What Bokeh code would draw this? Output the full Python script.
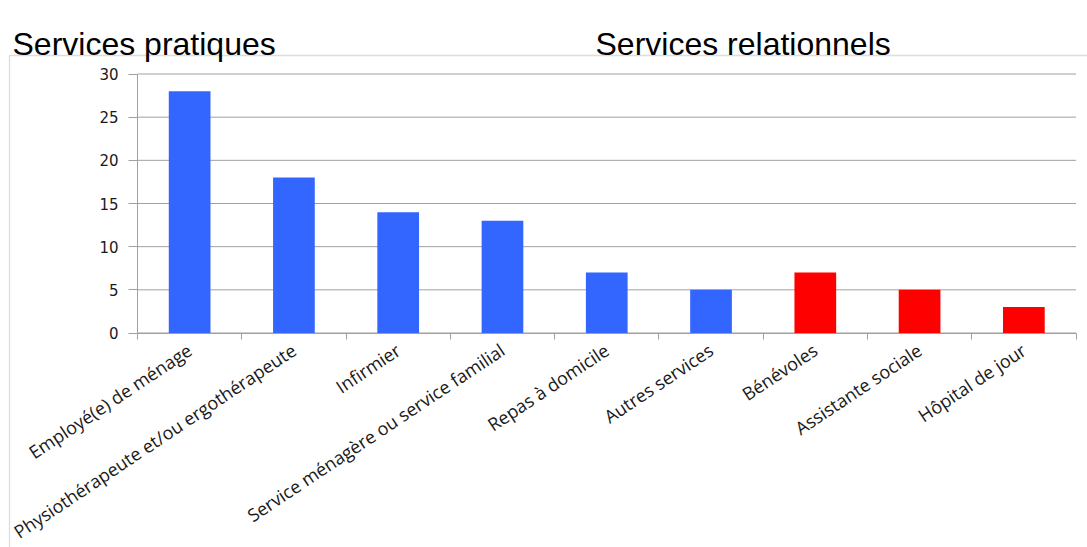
from bokeh.plotting import figure
from bokeh.models import Range1d, FixedTicker, BoxAnnotation, Label, ColumnDataSource
from bokeh.embed import file_html
from bokeh.resources import INLINE

categories = ["Employé(e) de ménage", "Physiothérapeute et/ou ergothérapeute", "Infirmier",
              "Service ménagère ou service familial", "Repas à domicile", "Autres services",
              "Bénévoles", "Assistante sociale", "Hôpital de jour"]
values = [28, 18, 14, 13, 7, 5, 7, 5, 3]
groups = ["pratique"] * 6 + ["relationnel"] * 3
group_colors = {"pratique": "#3366FF", "relationnel": "#FF0000"}
y_ticks = [0, 5, 10, 15, 20, 25, 30]
titles = ["Services pratiques", "Services relationnels"]

W, H = 1087, 547
# pixel layout of the inner plotting area
PX_L, PX_R, PX_T, PX_B = 137.0, 1075.5, 73.5, 332.5
n = len(categories)
YMAX = 30

sx = (PX_R - PX_L) / n
sy = (PX_B - PX_T) / YMAX
def x_at(px):
    return (px - PX_L) / sx
def y_at(py):
    return (PX_B - py) / sy

xs = [i + 0.5 for i in range(n)]
src = ColumnDataSource(dict(x=xs, top=values, color=[group_colors[g] for g in groups], cat=categories))

p = figure(width=W, height=H, output_backend="svg", toolbar_location=None,
           x_range=Range1d(x_at(0), x_at(W)), y_range=Range1d(y_at(H), y_at(0)),
           min_border=0, min_border_left=0, min_border_right=0, min_border_top=0, min_border_bottom=0)
p.outline_line_color = None
p.background_fill_color = "white"
p.border_fill_color = "white"
p.grid.visible = False

border = BoxAnnotation(left=x_at(9), right=x_at(W + 50), top=y_at(55), bottom=y_at(H + 50),
                       fill_color=None, line_color="#8f8f8f", line_width=1.3, level="underlay")
p.add_layout(border)

# horizontal gridlines, limited to the plotting area
p.segment(x0=[0] * len(y_ticks), x1=[n] * len(y_ticks), y0=y_ticks, y1=y_ticks,
          line_color="#a0a0a0", line_width=1)

p.vbar(x="x", top="top", width=0.4, color="color", line_color=None, source=src)

ya = p.yaxis[0]
ya.fixed_location = 0
ya.bounds = (0, YMAX)
ya.ticker = FixedTicker(ticks=y_ticks, minor_ticks=[])
ya.axis_line_color = "#a0a0a0"
ya.major_tick_line_color = "#a0a0a0"
ya.major_tick_out = 9
ya.major_tick_in = 0
ya.minor_tick_line_color = None
ya.major_label_text_font = "DejaVu Sans"
ya.major_label_text_font_size = "15px"
ya.major_label_text_color = "#1a1a1a"
ya.major_label_standoff = 10

xa = p.xaxis[0]
xa.fixed_location = 0
xa.bounds = (0, n)
xa.ticker = FixedTicker(ticks=xs, minor_ticks=list(range(n + 1)))
xa.major_label_overrides = {x: c for x, c in zip(xs, categories)}
xa.axis_line_color = "#a0a0a0"
xa.major_tick_line_color = None
xa.major_tick_out = 0
xa.major_tick_in = 0
xa.minor_tick_line_color = "#a0a0a0"
xa.minor_tick_out = 6
xa.minor_tick_in = 0
xa.major_label_orientation = 0.588
xa.major_label_text_font = "Open Sans"
xa.major_label_text_font_size = "18px"
xa.major_label_text_color = "#1a1a1a"
xa.major_label_standoff = 9

p.add_layout(Label(x=x_at(12), y=y_at(43), text=titles[0],
                   text_font="Liberation Sans", text_font_size="32px", text_color="black",
                   text_baseline="alphabetic"))
p.add_layout(Label(x=x_at(595), y=y_at(43), text=titles[1],
                   text_font="Liberation Sans", text_font_size="32px", text_color="black",
                   text_baseline="alphabetic"))

open("out.html", "w").write(file_html(p, INLINE))
